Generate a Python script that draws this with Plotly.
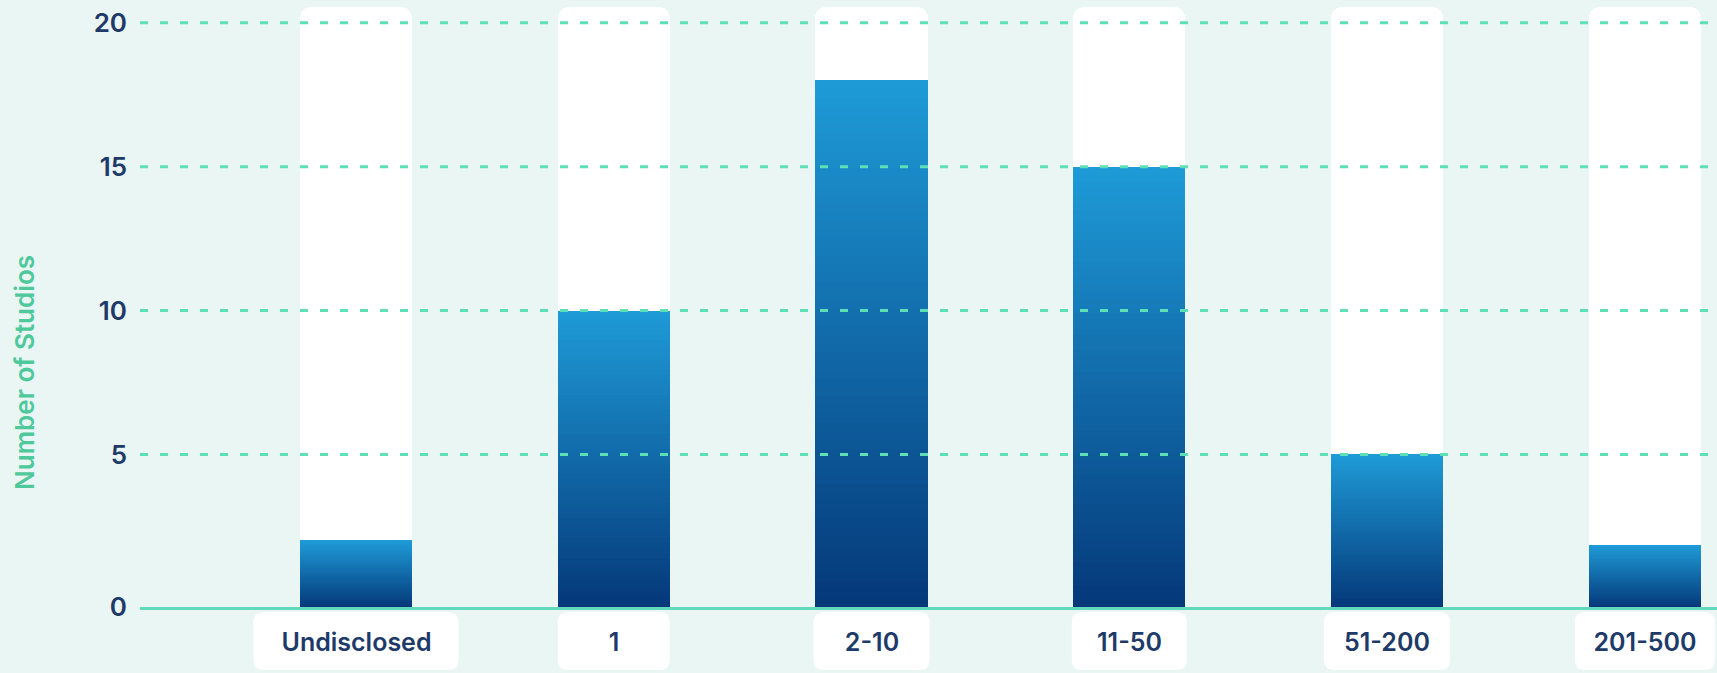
import numpy as np
import plotly.graph_objects as go

# ---- data ----
categories = ["Undisclosed", "1", "2-10", "11-50", "51-200", "201-500"]
studios = [2, 10, 18, 15, 5, 1.85]
y_ticks = [0, 5, 10, 15, 20]
y_tick_labels = ["0", "5", "10", "15", "20"]
y_title = "Number of Studios"

# ---- styling ----
BG = "#eaf6f4"
MINT = "#5ee0b7"
AXIS_MINT = "#62d9bb"
NAVY_TEXT = "#1e3a68"
TITLE_GREEN = "#4fc99c"
TOP_BLUE = np.array([30, 156, 216])
BOTTOM_BLUE = np.array([5, 57, 122])
BAR_W = 0.435
AXIS_FLOOR = -0.3          # baseline sits a little below the zero gridline level
TRACK_TOP = 20.55          # height of the white track behind each bar
Y_MAX = 20.79
X_RANGE = [-0.838, 5.28]
LABEL_BOX_W = [205, 112, 116, 115, 126, 140]   # chip widths, px
CHIP_TOP, CHIP_BOTTOM, CHIP_R = 5, 63, 10      # px below the baseline, corner radius
N_STEPS = 60
FONT = "Inter"

W, H = 1717, 673
M_L, M_R, M_T, M_B = 140, 0, 0, 66
plot_w = W - M_L - M_R
plot_h = H - M_T - M_B
px_per_cat = plot_w / (X_RANGE[1] - X_RANGE[0])

fig = go.Figure()

# white rounded tracks behind the bars
fig.add_trace(go.Bar(
    x=categories,
    y=[TRACK_TOP - AXIS_FLOOR] * len(categories),
    base=[AXIS_FLOOR] * len(categories),
    width=BAR_W,
    marker=dict(color="white", line=dict(width=0), cornerradius=11),
    hoverinfo="skip",
    showlegend=False,
))

# vertical gradient fill: overlapping slices from the baseline to each bar's top
vals = np.array(studios, dtype=float)
for i in range(N_STEPS):
    t = i / N_STEPS
    col = BOTTOM_BLUE + (TOP_BLUE - BOTTOM_BLUE) * t
    base = AXIS_FLOOR + (vals - AXIS_FLOOR) * t
    fig.add_trace(go.Bar(
        x=categories,
        y=vals - base,
        base=base,
        width=BAR_W,
        marker=dict(color=f"rgb({col[0]:.0f},{col[1]:.0f},{col[2]:.0f})", line=dict(width=0)),
        hoverinfo="skip" if i else "x+y",
        showlegend=False,
    ))

# dashed gridlines, drawn over the bars
for t in y_ticks:
    if t == 0:
        continue
    fig.add_shape(type="line", xref="paper", x0=0, x1=1, yref="y", y0=t, y1=t,
                  line=dict(color=MINT, width=3, dash="8px,12px"), layer="above")


def chip_path(cx, w_px):
    """Rounded rectangle under a category, x in category units, y in paper units."""
    hw = w_px / 2 / px_per_cat
    rx = CHIP_R / px_per_cat
    ry = CHIP_R / plot_h
    x0, x1 = cx - hw, cx + hw
    y1 = -CHIP_TOP / plot_h
    y0 = -CHIP_BOTTOM / plot_h
    return (f"M {x0 + rx},{y1} L {x1 - rx},{y1} Q {x1},{y1} {x1},{y1 - ry} "
            f"L {x1},{y0 + ry} Q {x1},{y0} {x1 - rx},{y0} "
            f"L {x0 + rx},{y0} Q {x0},{y0} {x0},{y0 + ry} "
            f"L {x0},{y1 - ry} Q {x0},{y1} {x0 + rx},{y1} Z")


# category labels on white rounded chips
for idx, (cat, w) in enumerate(zip(categories, LABEL_BOX_W)):
    fig.add_shape(type="path", xref="x", yref="paper", path=chip_path(idx, w),
                  fillcolor="white", line=dict(width=0), layer="above")
    fig.add_annotation(
        x=cat, xref="x", y=0, yref="paper", yanchor="top",
        yshift=-CHIP_TOP, text=cat, showarrow=False, borderpad=0,
        width=w, height=CHIP_BOTTOM - CHIP_TOP, valign="middle",
        font=dict(family=FONT, size=25, color=NAVY_TEXT, weight=600),
    )

# rotated y-axis title
fig.add_annotation(
    text=y_title, textangle=-90, showarrow=False,
    xref="paper", x=-0.0736, xanchor="center",
    yref="paper", y=0.387, yanchor="middle",
    font=dict(family=FONT, size=26, color=TITLE_GREEN, weight=600),
)

fig.update_layout(
    width=W, height=H,
    margin=dict(l=M_L, r=M_R, t=M_T, b=M_B),
    paper_bgcolor=BG, plot_bgcolor=BG,
    barmode="overlay",
    bargap=0,
    xaxis=dict(
        type="category", range=X_RANGE, showgrid=False, zeroline=False,
        showticklabels=False, showline=True, linecolor=AXIS_MINT, linewidth=3,
        layer="above traces", fixedrange=True,
    ),
    yaxis=dict(
        range=[AXIS_FLOOR, Y_MAX], showgrid=False, zeroline=False,
        tickvals=[AXIS_FLOOR if t == 0 else t for t in y_ticks],
        ticktext=y_tick_labels, ticks="", ticklabelstandoff=12,
        tickfont=dict(family=FONT, size=26, color=NAVY_TEXT, weight=600),
        fixedrange=True,
    ),
)

fig.write_html("out.html", config={"displayModeBar": False})
